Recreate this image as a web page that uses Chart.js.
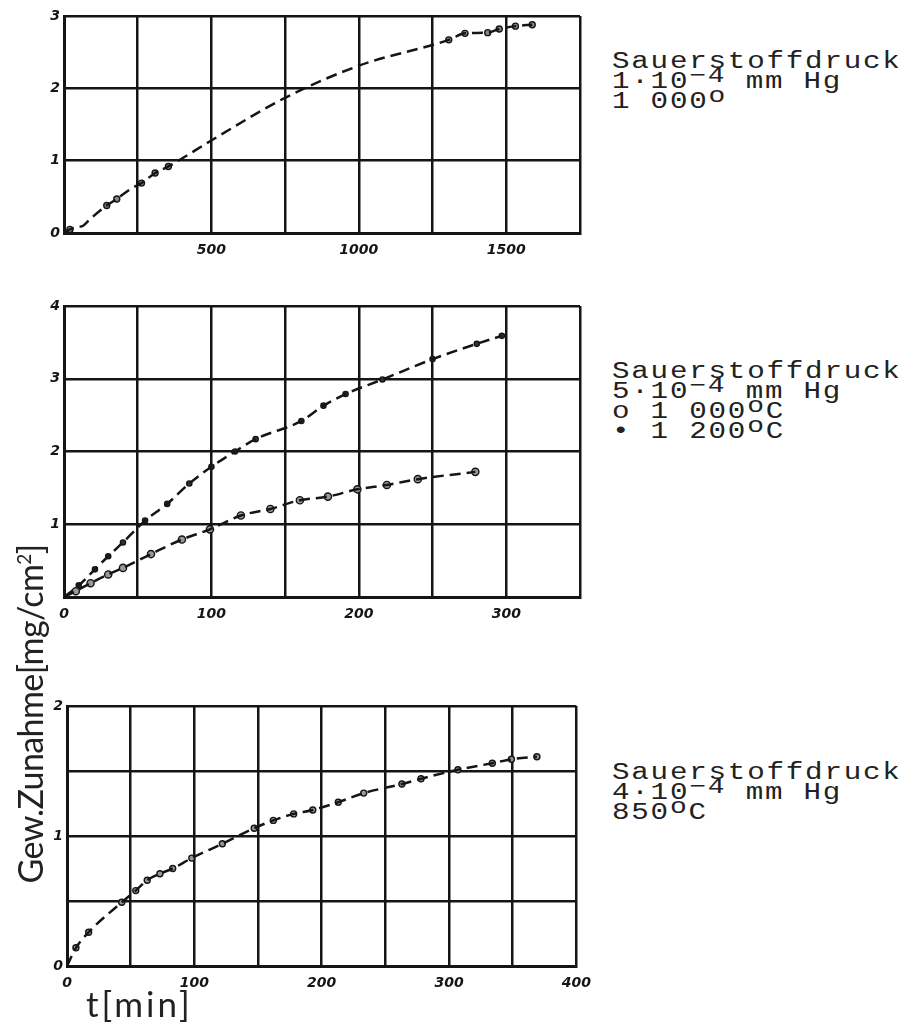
<!DOCTYPE html>
<html>
<head>
<meta charset="utf-8">
<script src="https://cdn.jsdelivr.net/npm/chart.js@4.4.1/dist/chart.umd.min.js"></script>
<style>
  html, body { margin: 0; padding: 0; background: #fff; }
  #page { position: relative; width: 912px; height: 1035px; overflow: hidden; }
  canvas { position: absolute; left: 0; }
  .note {
    position: absolute; left: 612px; font-family: 'Liberation Mono', monospace;
    font-size: 23px; line-height: 20px; color: #222; letter-spacing: 1.4px;
    transform: scaleX(1.27); transform-origin: left top; white-space: nowrap;
  }
  .note sup { font-size: 22px; position: relative; top: -6px; vertical-align: baseline; line-height: 0; }
  #ytitle {
    position: absolute; left: -160px; top: 694px; width: 380px; height: 40px;
    font-family: Lato, sans-serif; font-size: 34px; line-height: 40px; text-align: center;
    color: #222; letter-spacing: -0.6px; transform: rotate(-90deg); white-space: nowrap;
  }
  #ytitle sup { font-size: 19px; line-height: 0; }
  #xtitle {
    position: absolute; left: 86px; top: 982px; font-family: Lato, sans-serif;
    font-size: 35px; color: #222; letter-spacing: 3px; white-space: nowrap;
  }
</style>
</head>
<body>
<div id="page">
  <canvas id="c1" width="600" height="270" style="top:0px"></canvas>
  <canvas id="c2" width="600" height="340" style="top:290px"></canvas>
  <canvas id="c3" width="600" height="310" style="top:690px"></canvas>

  <div class="note" style="top:52px">Sauerstoffdruck<br>1·10<sup>−4</sup> mm Hg<br>1 000<sup>o</sup></div>
  <div class="note" style="top:362px">Sauerstoffdruck<br>5·10<sup>−4</sup> mm Hg<br>o 1 000<sup>o</sup>C<br>• 1 200<sup>o</sup>C</div>
  <div class="note" style="top:763px">Sauerstoffdruck<br>4·10<sup>−4</sup> mm Hg<br>850<sup>o</sup>C</div>

  <div id="ytitle">Gew.Zunahme[mg/cm<sup>2</sup>]</div>
  <div id="xtitle">t[min]</div>
</div>

<script>
// panel 1: 1e-4 mm Hg, 1000 C
const p1CurveT = [0, 20, 43, 65, 88, 145, 179, 230, 263, 309, 354, 508, 755, 1005, 1305, 1360, 1437, 1476, 1531, 1588];
const p1CurveW = [0, 0.05, 0.08, 0.10, 0.19, 0.38, 0.47, 0.62, 0.69, 0.83, 0.92, 1.30, 1.88, 2.32, 2.67, 2.76, 2.77, 2.82, 2.86, 2.88];
const p1MarkT = [20, 145, 179, 263, 309, 354, 1305, 1360, 1437, 1476, 1531, 1588];
const p1MarkW = [0.05, 0.38, 0.47, 0.69, 0.83, 0.92, 2.67, 2.76, 2.77, 2.82, 2.86, 2.88];
const p1XTicks = [500, 1000, 1500];
const p1YTicks = [0, 1, 2, 3];

// panel 2: 5e-4 mm Hg, upper and lower curve
const p2UpperT = [0, 10, 21, 30, 40, 55, 70, 85, 100, 116, 130, 161, 176, 191, 216, 250, 280, 297];
const p2UpperW = [0, 0.16, 0.38, 0.56, 0.75, 1.05, 1.28, 1.56, 1.79, 2.0, 2.17, 2.42, 2.63, 2.79, 2.99, 3.27, 3.48, 3.59];
const p2LowerT = [0, 8, 18, 30, 40, 59, 80, 99, 120, 140, 160, 179, 199, 219, 240, 279];
const p2LowerW = [0, 0.08, 0.19, 0.31, 0.40, 0.59, 0.79, 0.93, 1.12, 1.21, 1.33, 1.38, 1.48, 1.54, 1.62, 1.72];
const p2XTicks = [0, 100, 200, 300];
const p2YTicks = [1, 2, 3, 4];

// panel 3: 4e-4 mm Hg, 850 C
const p3T = [0, 7, 17, 43, 54, 63, 73, 83, 98, 122, 147, 162, 178, 193, 213, 233, 263, 278, 307, 334, 349, 369];
const p3W = [0, 0.14, 0.26, 0.49, 0.58, 0.66, 0.71, 0.75, 0.83, 0.94, 1.06, 1.12, 1.17, 1.20, 1.26, 1.33, 1.40, 1.44, 1.51, 1.56, 1.59, 1.61];
const p3XTicks = [0, 100, 200, 300, 400];
const p3YTicks = [0, 1, 2];

const ink = '#151515';
const tickFont = { family: 'DejaVu Sans', style: 'italic', weight: 'bold', size: 14 };

function pts(xs, ys) {
  return xs.map((x, i) => ({ x, y: ys[i] }));
}

function curve(xs, ys) {
  return {
    data: pts(xs, ys), showLine: true, borderColor: ink, borderWidth: 2.5, borderDash: [11, 6],
    pointRadius: 0, cubicInterpolationMode: 'monotone', fill: false
  };
}

function marks(xs, ys, r, fill) {
  return {
    data: pts(xs, ys), showLine: false, pointRadius: r,
    pointBackgroundColor: fill, pointBorderColor: ink, pointBorderWidth: 1.4
  };
}

function panel(id, datasets, cfg) {
  new Chart(document.getElementById(id), {
    type: 'scatter',
    data: { datasets },
    options: {
      responsive: false,
      animation: false,
      layout: { padding: cfg.pad },
      plugins: { legend: { display: false }, tooltip: { enabled: false } },
      scales: {
        x: {
          type: 'linear', min: 0, max: cfg.xMax,
          afterFit: (s) => { s.height = cfg.xH; },
          border: { display: true, color: ink, width: 3 },
          grid: { color: ink, lineWidth: 2.5, drawTicks: false },
          ticks: {
            stepSize: cfg.xStep, padding: 9, color: ink, font: tickFont, maxRotation: 0, autoSkip: false,
            callback: (v) => (cfg.xTicks.includes(v) ? String(v) : '')
          }
        },
        y: {
          type: 'linear', min: 0, max: cfg.yMax,
          afterFit: (s) => { s.width = 20; },
          border: { display: true, color: ink, width: 3 },
          grid: { color: ink, lineWidth: 2.5, drawTicks: false },
          ticks: {
            stepSize: cfg.yStep, padding: 4, color: ink, font: tickFont, autoSkip: false,
            callback: (v) => (cfg.yTicks.includes(v) ? String(v) : '')
          }
        }
      }
    }
  });
}

panel('c1', [curve(p1CurveT, p1CurveW), marks(p1MarkT, p1MarkW, 3, '#888')], {
  pad: { left: 44, right: 20, top: 16, bottom: 0 }, xH: 37,
  xMax: 1750, xStep: 250, xTicks: p1XTicks, yMax: 3, yStep: 1, yTicks: p1YTicks
});

panel('c2', [
  curve(p2UpperT, p2UpperW), marks(p2UpperT.slice(1), p2UpperW.slice(1), 2.6, '#333'),
  curve(p2LowerT, p2LowerW), marks(p2LowerT.slice(1), p2LowerW.slice(1), 3.6, '#999')
], {
  pad: { left: 44, right: 20, top: 16, bottom: 0 }, xH: 33,
  xMax: 350, xStep: 50, xTicks: p2XTicks, yMax: 4, yStep: 1, yTicks: p2YTicks
});

panel('c3', [curve(p3T, p3W), marks(p3T.slice(1), p3W.slice(1), 3, '#999')], {
  pad: { left: 47, right: 23, top: 16, bottom: 0 }, xH: 34,
  xMax: 400, xStep: 50, xTicks: p3XTicks, yMax: 2, yStep: 0.5, yTicks: p3YTicks
});
</script>
</body>
</html>
